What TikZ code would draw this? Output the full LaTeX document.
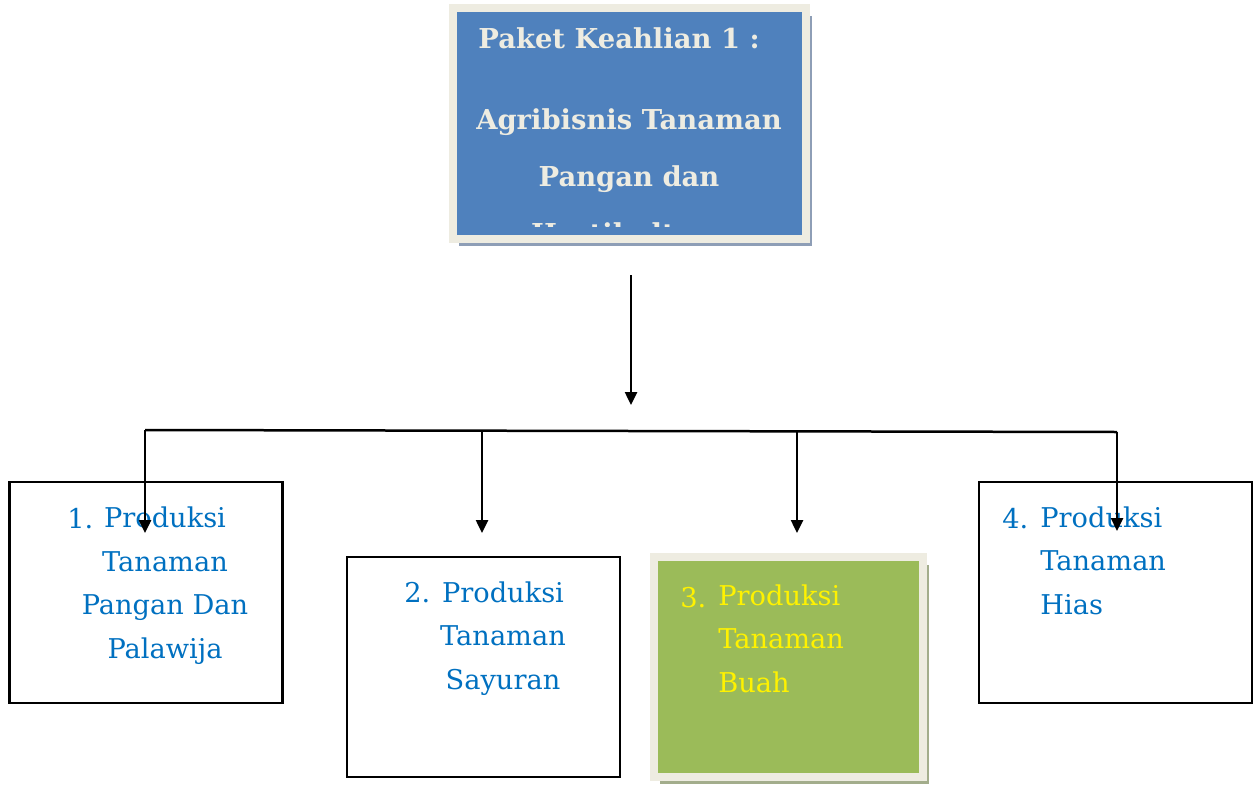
\documentclass[tikz,border=0pt]{standalone}
\usepackage{fontspec}
\setmainfont{DejaVu Serif}
\usetikzlibrary{positioning,arrows.meta,shadows}

\definecolor{headblue}{HTML}{4F81BD}
\definecolor{paper}{HTML}{EEECE1}
\definecolor{shadeblue}{HTML}{8E9EB6}
\definecolor{leafgreen}{HTML}{9BBB59}
\definecolor{shadegreen}{HTML}{A3AD8C}
\definecolor{itemblue}{HTML}{0070C0}

\begin{document}
\begin{tikzpicture}[x=0.02cm,y=-0.02cm,
    plainbox/.style={draw,line width=0.05cm,inner sep=0pt,minimum width=5.47cm,minimum height=4.42cm},
    framebox/.style={draw=paper,line width=0.16cm,inner sep=0pt,
      drop shadow={shadow xshift=0.12cm,shadow yshift=-0.15cm,opacity=1,fill=#1}},
    item/.style={text=itemblue,inner sep=0pt,font=\fontsize{15.5}{24.7}\selectfont},
    head/.style={text=paper,inner sep=0pt,font=\fontsize{15.6}{32.3}\selectfont\bfseries},
    link/.style={line width=0.05cm},
    arrow/.style={link,-{Triangle[length=0.26cm,width=0.24cm]}}]
  \useasboundingbox (0,0) rectangle (1253,784);

  % boxes
  \node[framebox=shadeblue,fill=headblue,minimum width=7.06cm,minimum height=4.62cm] (top) at (629.5,123.5) {};
  \node[plainbox] (b1) at (146,592.5) {};
  \node[plainbox,minimum height=4.4cm] (b2) at (483.5,667) {};
  \node[framebox=shadegreen,fill=leafgreen,minimum width=5.38cm,minimum height=4.4cm] (b3) at (788.5,667) {};
  \node[plainbox] (b4) at (1115.5,592.5) {};

  % top text, cut off by the text frame
  \begin{scope}
    \clip (457,12) rectangle (802,226);
    \node[head,anchor=base west] (title) at (478,49) {Paket Keahlian 1 :};
    \node[head,anchor=base,align=center] (name) at (629,243) {Agribisnis Tanaman\\Pangan dan\\Hortikultura};
  \end{scope}

  % item texts (anchored on the last line)
  \node[item,anchor=base,align=center] (t1) at (165,658) {Produksi\\Tanaman\\Pangan Dan\\Palawija};
  \node[item,anchor=base west] (n1) at (67,528) {1.};
  \node[item,anchor=base,align=center] (t2) at (503,689) {Produksi\\Tanaman\\Sayuran};
  \node[item,anchor=base west] (n2) at (404,602) {2.};
  \node[item,text=yellow,anchor=base west,align=left] (t3) at (718,692) {Produksi\\Tanaman\\Buah};
  \node[item,text=yellow,anchor=base west] (n3) at (680,607) {3.};
  \node[item,anchor=base west,align=left] (t4) at (1040,614) {Produksi\\Tanaman\\Hias};
  \node[item,anchor=base west] (n4) at (1002,528) {4.};

  % connectors
  \coordinate (down) at (631,275);
  \coordinate (mid) at (631,405);
  \coordinate (j1) at (145,430);
  \coordinate (j2) at (482,431);
  \coordinate (j3) at (797,431.5);
  \coordinate (j4) at (1117,432);
  \coordinate (e1) at (145,533);
  \coordinate (e2) at (482,533);
  \coordinate (e3) at (797,533);
  \coordinate (e4) at (1117,531);

  \draw[arrow] (down) -- (mid);
  \draw[link] (j1) -- (j4);
  \draw[arrow] (j1) -- (e1);
  \draw[arrow] (j2) -- (e2);
  \draw[arrow] (j3) -- (e3);
  \draw[arrow] (j4) -- (e4);
\end{tikzpicture}
\end{document}
